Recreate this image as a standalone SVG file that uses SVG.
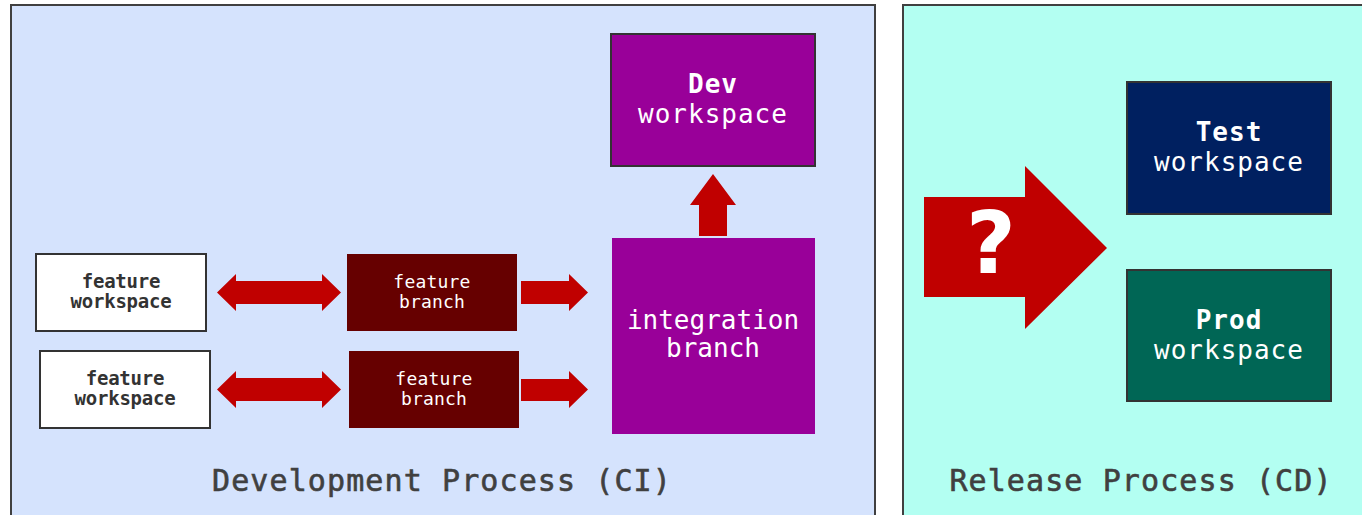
<svg xmlns="http://www.w3.org/2000/svg" width="1362" height="515" viewBox="0 0 1362 515">
  <style>
    .panel { stroke: #404040; stroke-width: 2; }
    .box { stroke: #333333; stroke-width: 2; }
    .arrow { fill: #c00000; }
    text { font-family: "DejaVu Sans Mono", "Liberation Mono", monospace; text-anchor: middle; }
    .plabel { font-size: 30px; fill: #404040; stroke: #404040; stroke-width: 0.6px; letter-spacing: 1.1px; }
    .ws { font-size: 26px; fill: #ffffff; letter-spacing: 1px; }
    .wsb { font-weight: bold; }
    .fw { font-size: 19px; font-weight: bold; fill: #333333; letter-spacing: -0.2px; }
    .fb { font-size: 18px; fill: #ffffff; letter-spacing: 0.2px; }
    .ib { font-size: 26px; fill: #ffffff; }
  </style>

  <rect width="1362" height="515" fill="#ffffff"/>

  <!-- CI panel -->
  <g id="panel-ci">
    <rect class="panel" x="11" y="5" width="864" height="520" fill="#d5e3fd"/>
    <text class="plabel" x="442" y="491">Development Process (CI)</text>
  </g>

  <!-- CD panel -->
  <g id="panel-cd">
    <rect class="panel" x="903" y="5" width="470" height="520" fill="#b3fff2"/>
    <text class="plabel" x="1141" y="491">Release Process (CD)</text>
  </g>

  <g id="dev-workspace">
    <rect class="box" x="611" y="34" width="204" height="132" fill="#990099"/>
    <text class="ws wsb" x="713" y="93">Dev</text>
    <text class="ws" x="713" y="123">workspace</text>
  </g>

  <g id="integration-branch">
    <rect x="612" y="238" width="203" height="196" fill="#990099"/>
    <text class="ib" x="713" y="329">integration</text>
    <text class="ib" x="713" y="357">branch</text>
  </g>

  <g id="feature-workspace-1">
    <rect class="box" x="36" y="254" width="170" height="77" fill="#ffffff"/>
    <text class="fw" x="121" y="288">feature</text>
    <text class="fw" x="121" y="308">workspace</text>
  </g>

  <g id="feature-workspace-2">
    <rect class="box" x="40" y="351" width="170" height="77" fill="#ffffff"/>
    <text class="fw" x="125" y="385">feature</text>
    <text class="fw" x="125" y="405">workspace</text>
  </g>

  <g id="feature-branch-1">
    <rect x="347" y="254" width="170" height="77" fill="#660000"/>
    <text class="fb" x="432" y="288">feature</text>
    <text class="fb" x="432" y="308">branch</text>
  </g>

  <g id="feature-branch-2">
    <rect x="349" y="351" width="170" height="77" fill="#660000"/>
    <text class="fb" x="434" y="385">feature</text>
    <text class="fb" x="434" y="405">branch</text>
  </g>

  <g id="test-workspace">
    <rect class="box" x="1127" y="82" width="204" height="132" fill="#002060"/>
    <text class="ws wsb" x="1229" y="141">Test</text>
    <text class="ws" x="1229" y="171">workspace</text>
  </g>

  <g id="prod-workspace">
    <rect class="box" x="1127" y="270" width="204" height="131" fill="#006655"/>
    <text class="ws wsb" x="1229" y="329">Prod</text>
    <text class="ws" x="1229" y="359">workspace</text>
  </g>

  <!-- block arrows between the stages -->
  <g id="connectors">
    <!-- feature workspace <-> feature branch -->
    <polygon class="arrow" points="217,292.5 236,274 236,281 322,281 322,274 341,292.5 322,311 322,304 236,304 236,311"/>
    <polygon class="arrow" points="217,389.5 236,371 236,378 322,378 322,371 341,389.5 322,408 322,401 236,401 236,408"/>
    <!-- feature branch -> integration branch -->
    <polygon class="arrow" points="521,281 569,281 569,274 588,292.5 569,311 569,304 521,304"/>
    <polygon class="arrow" points="521,379 569,379 569,371 588,389.5 569,408 569,401 521,401"/>
    <!-- integration branch -> Dev workspace -->
    <polygon class="arrow" points="699,236 699,205 690,205 713,174 736,205 727,205 727,236"/>
    <!-- CI -> CD -->
    <g id="release-arrow">
      <polygon class="arrow" points="924,197 1025,197 1025,166 1107,248 1025,329 1025,297 924,297"/>
      <text x="991" y="273" style="font-size:86px;font-weight:bold;fill:#ffffff;font-family:'DejaVu Sans','Liberation Sans',sans-serif">?</text>
    </g>
  </g>
</svg>
